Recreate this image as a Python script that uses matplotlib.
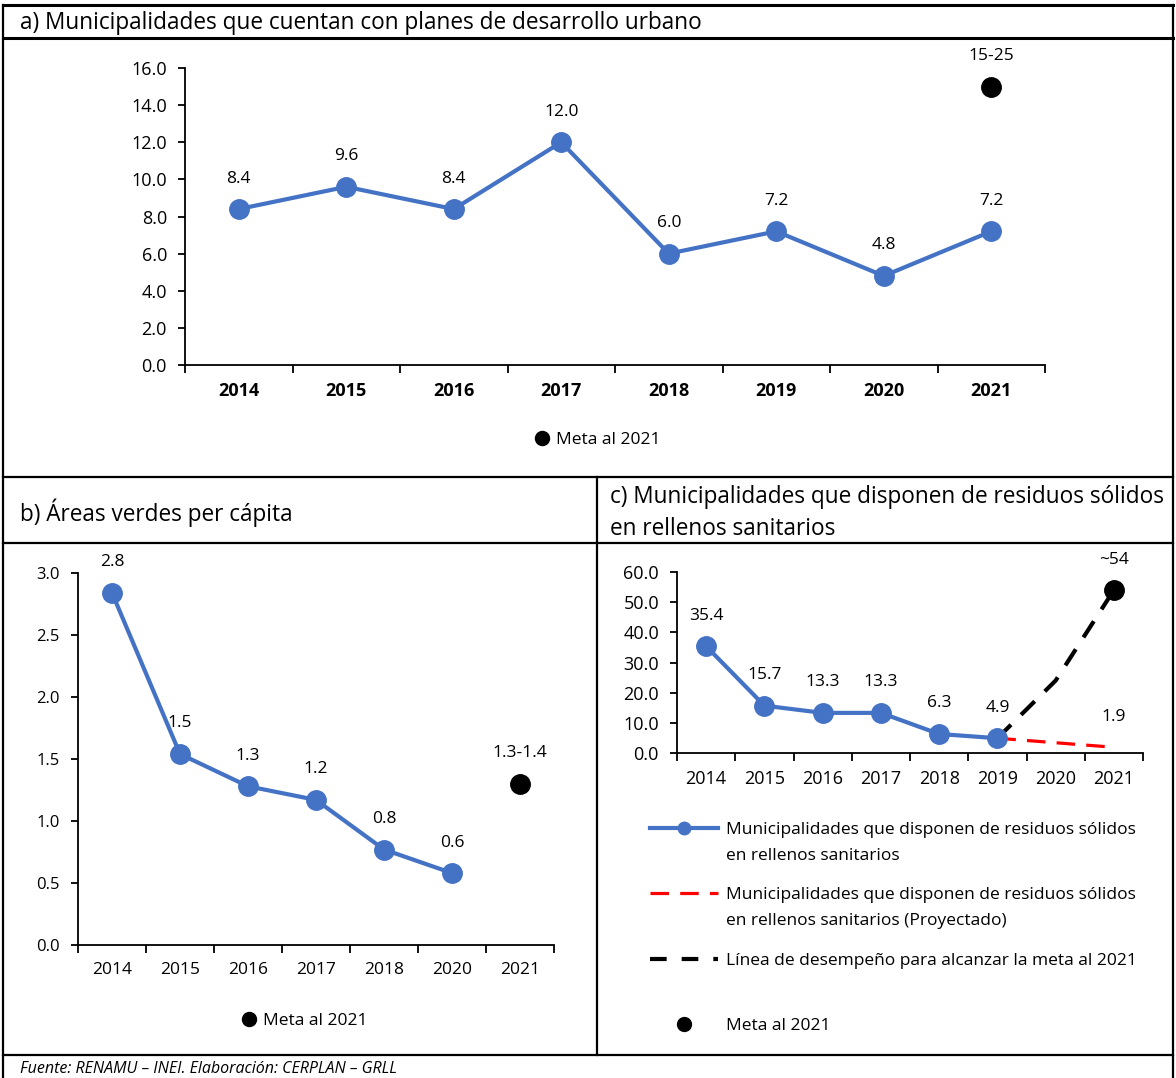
import numpy as np
import matplotlib
matplotlib.use("Agg")
import matplotlib.pyplot as plt
from matplotlib.lines import Line2D
from matplotlib.ticker import FormatStrFormatter

plt.rcParams['font.family'] = ['Open Sans', 'DejaVu Sans']

AZUL = '#4472C4'
ROJO = '#FF0000'

# a) Municipalidades que cuentan con planes de desarrollo urbano
anios_a = ['2014', '2015', '2016', '2017', '2018', '2019', '2020', '2021']
planes = [8.4, 9.6, 8.4, 12.0, 6.0, 7.2, 4.8, 7.2]
meta_a = 15.0
meta_a_txt = '15-25'

# b) Areas verdes per capita (no hay dato 2019)
anios_b = ['2014', '2015', '2016', '2017', '2018', '2020', '2021']
areas = [2.84, 1.54, 1.28, 1.17, 0.77, 0.58]
meta_b = 1.3
meta_b_txt = '1.3-1.4'

# c) Municipalidades que disponen residuos en rellenos sanitarios
anios_c = ['2014', '2015', '2016', '2017', '2018', '2019', '2020', '2021']
residuos = [35.4, 15.7, 13.3, 13.3, 6.3, 4.9]
proyectado = [4.9, 3.4, 1.9]      # 2019-2021
desempeno = [4.9, 24.0, 54.0]     # 2019-2021
meta_c = 54.0
meta_c_txt = '~54'

W, H = 1176, 1078
fig = plt.figure(figsize=(W / 100, H / 100), dpi=100)

FS = 12.5  # rotulos de datos y leyendas


def fx(px):
    return px / W


def fy(py):
    return 1 - py / H


def caja(l, t, r, b):
    return fig.add_axes([fx(l), fy(b), (r - l) / W, (b - t) / H])


def linea(x0, y0, x1, y1, lw=1.6):
    fig.add_artist(Line2D([fx(x0), fx(x1)], [fy(y0), fy(y1)], color='black', lw=lw))


def estilo(ax, etiquetas, ymax, paso, negrita=False, fs_x=12.5, fs_y=12.5):
    n = len(etiquetas)
    ax.set_xlim(-0.5, n - 0.5)
    ax.set_ylim(0, ymax)
    ax.set_yticks(np.arange(0, ymax + paso / 2, paso))
    ax.yaxis.set_major_formatter(FormatStrFormatter('%.1f'))
    for s in ['top', 'right']:
        ax.spines[s].set_visible(False)
    for s in ['left', 'bottom']:
        ax.spines[s].set_linewidth(1.3)
    ax.set_xticks(range(n))
    ax.set_xticklabels(etiquetas, fontweight='bold' if negrita else 'normal')
    ax.set_xticks(np.arange(-0.5, n), minor=True)
    ax.tick_params(axis='x', which='major', length=0, pad=12, labelsize=fs_x)
    ax.tick_params(axis='x', which='minor', length=6, width=1.3, direction='out')
    ax.tick_params(axis='y', length=5, width=1.3, pad=8, labelsize=fs_y)
    ax.set_facecolor('none')


def rotulo(ax, x, y, txt):
    ax.annotate(txt, (x, y), xytext=(0, 22), textcoords='offset points',
                ha='center', va='center', fontsize=FS)


# bordes de la tabla
linea(3, 5, 1173, 5, 2.2)
linea(3, 38, 1173, 38, 2.2)
linea(3, 477, 1173, 477)
linea(3, 543, 1173, 543)
linea(3, 1055, 1173, 1055)
linea(3, 5, 3, 1078)
linea(1173, 5, 1173, 1078)
linea(597, 477, 597, 1055)

fig.text(fx(20), fy(23), 'a) Municipalidades que cuentan con planes de desarrollo urbano',
         fontsize=16.3, va='center')
fig.text(fx(20), fy(513), 'b) Áreas verdes per cápita', fontsize=16.3, va='center')
fig.text(fx(610), fy(513), 'c) Municipalidades que disponen de residuos sólidos\nen rellenos sanitarios',
         fontsize=16.3, va='center', linespacing=1.45)
fig.text(fx(20), fy(1069), 'Fuente: RENAMU – INEI. Elaboración: CERPLAN – GRLL',
         fontsize=11.5, style='italic', va='center')

# ---- a)
ax_a = caja(185, 68, 1045, 365)
estilo(ax_a, anios_a, 16, 2, negrita=True, fs_x=13, fs_y=13)
xa = np.arange(len(planes))
ax_a.plot(xa, planes, color=AZUL, lw=3, marker='o', ms=14, clip_on=False)
for x, v in zip(xa, planes):
    rotulo(ax_a, x, v, f'{v:.1f}')
ax_a.plot([len(anios_a) - 1], [meta_a], 'o', color='black', ms=14, label='Meta al 2021')
rotulo(ax_a, len(anios_a) - 1, meta_a, meta_a_txt)
ax_a.legend(loc='center', bbox_to_anchor=(fx(598), fy(440)), bbox_transform=fig.transFigure,
            frameon=False, fontsize=FS, handlelength=0.8, handletextpad=0.4, markerscale=0.72)

# ---- b)
ax_b = caja(78, 573, 554, 945)
estilo(ax_b, anios_b, 3, 0.5, fs_x=12.5, fs_y=12)
xb = np.arange(len(areas))
ax_b.plot(xb, areas, color=AZUL, lw=3, marker='o', ms=14)
for x, v in zip(xb, areas):
    rotulo(ax_b, x, v, f'{v:.1f}')
ax_b.plot([len(anios_b) - 1], [meta_b], 'o', color='black', ms=14, label='Meta al 2021')
rotulo(ax_b, len(anios_b) - 1, meta_b, meta_b_txt)
ax_b.legend(loc='center', bbox_to_anchor=(fx(305), fy(1021)), bbox_transform=fig.transFigure,
            frameon=False, fontsize=FS, handlelength=0.8, handletextpad=0.4, markerscale=0.72)

# ---- c)
ax_c = caja(677, 572, 1143, 753)
estilo(ax_c, anios_c, 60, 10, fs_x=13, fs_y=13)
xc = np.arange(len(residuos))
xp = np.arange(len(residuos) - 1, len(anios_c))
ax_c.plot(xp, desempeno, color='black', lw=3, dashes=(4.6, 3.4), zorder=2)
ax_c.plot(xp, proyectado, color=ROJO, lw=2.3, dashes=(5.8, 3.5), zorder=2)
ax_c.plot(xc, residuos, color=AZUL, lw=3, marker='o', ms=14, zorder=3)
ax_c.plot([len(anios_c) - 1], [meta_c], 'o', color='black', ms=14, zorder=4)
for x, v in zip(xc, residuos):
    rotulo(ax_c, x, v, f'{v:.1f}')
rotulo(ax_c, xp[-1], proyectado[-1], f'{proyectado[-1]:.1f}')
rotulo(ax_c, len(anios_c) - 1, meta_c, meta_c_txt)

# leyenda de c): primera linea de cada rotulo en la leyenda, segunda linea como texto
k_res = Line2D([], [], color=AZUL, lw=3, marker='o', ms=9)
k_proy = Line2D([], [], color=ROJO, lw=2.3, dashes=(5.8, 3.5))
k_desemp = Line2D([], [], color='black', lw=3, dashes=(4.0, 3.6))
k_meta = Line2D([], [], color='black', marker='o', ms=10, linestyle='none')
fig.legend([k_res, k_proy, k_desemp, k_meta],
           ['Municipalidades que disponen de residuos sólidos',
            'Municipalidades que disponen de residuos sólidos',
            'Línea de desempeño para alcanzar la meta al 2021',
            'Meta al 2021'],
           loc='upper left', bbox_to_anchor=(fx(650), fy(822)), frameon=False,
           fontsize=FS, handlelength=3.9, handletextpad=0.45, labelspacing=2.83,
           borderpad=0, borderaxespad=0)
fig.text(fx(726), fy(856), 'en rellenos sanitarios', fontsize=FS, va='center')
fig.text(fx(726), fy(921), 'en rellenos sanitarios (Proyectado)', fontsize=FS, va='center')

plt.savefig('out.png', dpi=100)
